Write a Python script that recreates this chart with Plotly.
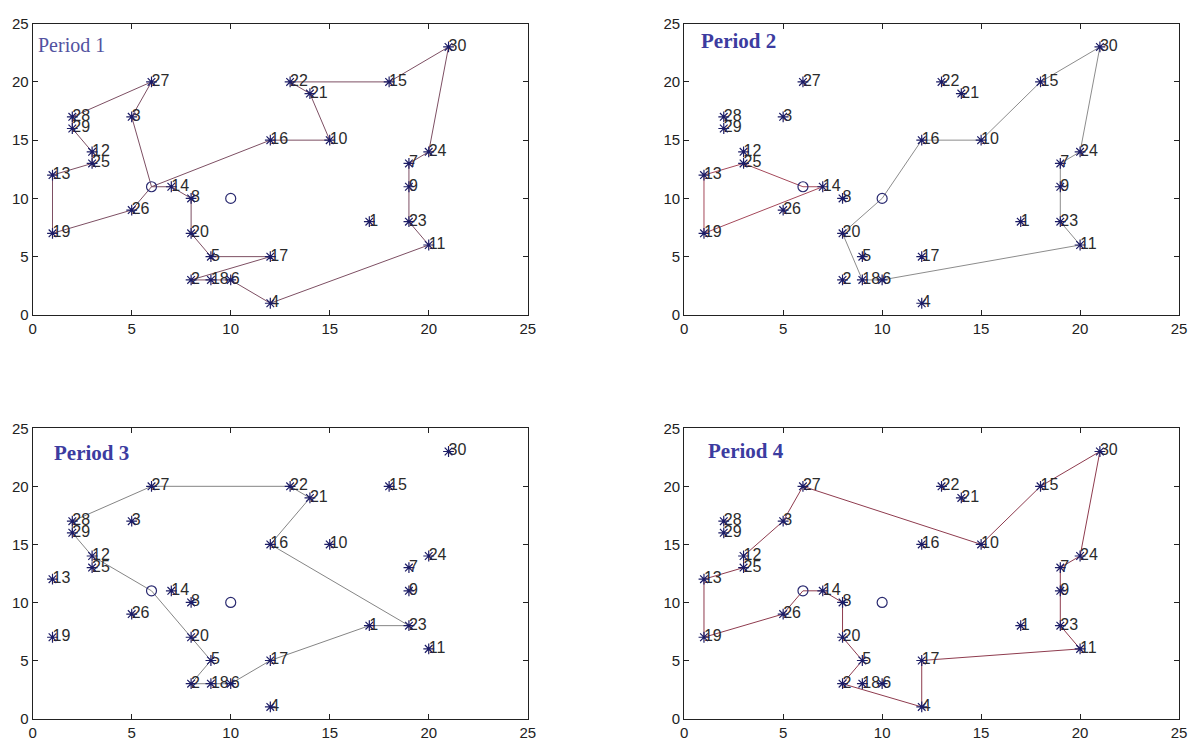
import plotly.graph_objects as go

# Customer coordinates (node 1..30)
node_ids = list(range(1, 31))
node_x = [17, 8, 5, 12, 9, 10, 19, 8, 19, 15, 20, 3, 1, 7, 18,
          12, 12, 9, 1, 8, 14, 13, 19, 20, 3, 5, 6, 2, 2, 21]
node_y = [8, 3, 17, 1, 5, 3, 13, 10, 11, 15, 6, 14, 12, 11, 20,
          15, 5, 3, 7, 7, 19, 20, 8, 14, 13, 9, 20, 17, 16, 23]

# Depots
depot_names = ["A", "B"]
depot_x = [6, 10]
depot_y = [11, 10]

# Vehicle routes per period (node ids, "A"/"B" = depots)
period1_routes = [
    ["A", 3, 27, 28, 29, 12, 25, 13, 19, 26, "A"],
    ["A", 16, 10, 21, 22, 15, 30, 24, 7, 9, 23, 11, 4, 6, 18, 2, 17, 5, 20, 8, 14, "A"],
]
period2_routes = [
    ["A", 25, 13, 19, 14, "A"],
    ["B", 16, 10, 15, 30, 24, 7, 9, 23, 11, 6, 18, 20, "B"],
]
period3_routes = [
    ["A", 20, 5, 2, 18, 6, 17, 1, 23, 16, 21, 22, 27, 28, 29, 12, "A"],
]
period4_routes = [
    ["A", 14, 8, 20, 5, 2, 4, 17, 11, 23, 9, 7, 24, 30, 15, 10, 27, 3, 12, 25, 13, 19, 26, "A"],
]

# (title, routes, route colours, bold title, title position in axis-domain units)
periods = [
    ("Period 1", period1_routes, ["#7d4f63", "#7d4f63"], False, (0.007, 0.926)),
    ("Period 2", period2_routes, ["#a4485a", "#8c8c8c"], True, (0.030, 0.940)),
    ("Period 3", period3_routes, ["#858585"], True, (0.038, 0.916)),
    ("Period 4", period4_routes, ["#8e3b4e"], True, (0.044, 0.920)),
]

x_domains = [[0.0242, 0.4416], [0.5735, 0.9908], [0.0242, 0.4416], [0.5735, 0.9908]]
y_domains = [[0.5827, 0.98], [0.5827, 0.98], [0.032, 0.428], [0.032, 0.428]]

ticks = [0, 5, 10, 15, 20, 25]
tick_text = ["0", "5", "10", "15", "20", "25"]


def coord(p):
    if isinstance(p, str):
        i = depot_names.index(p)
        return depot_x[i], depot_y[i]
    return node_x[p - 1], node_y[p - 1]


fig = go.Figure()
label_font = dict(family="Liberation Sans Narrow, Liberation Sans, Arial", size=16, color="#2b2b2b")
marker_color = "#1c1c66"

for k, (title, routes, colors, bold, tpos) in enumerate(periods):
    suffix = "" if k == 0 else str(k + 1)
    xa, ya = "x" + suffix, "y" + suffix

    for r, route in enumerate(routes):
        pts = [coord(p) for p in route]
        fig.add_trace(go.Scatter(
            x=[p[0] for p in pts], y=[p[1] for p in pts], mode="lines",
            line=dict(color=colors[r], width=1), xaxis=xa, yaxis=ya,
            showlegend=False, hoverinfo="skip"))

    fig.add_trace(go.Scatter(
        x=node_x, y=node_y, mode="text",
        text=[str(i) for i in node_ids], textposition="middle right",
        textfont=label_font, xaxis=xa, yaxis=ya, showlegend=False, hoverinfo="skip"))
    fig.add_trace(go.Scatter(
        x=node_x, y=node_y, mode="markers",
        marker=dict(symbol="asterisk-open", size=9, color=marker_color,
                    line=dict(color=marker_color, width=1.2)),
        xaxis=xa, yaxis=ya, showlegend=False))
    fig.add_trace(go.Scatter(
        x=depot_x, y=depot_y, mode="markers",
        marker=dict(symbol="circle-open", size=10, color="#2a2a70",
                    line=dict(color="#2a2a70", width=1.2)),
        xaxis=xa, yaxis=ya, showlegend=False))

    fig.add_annotation(
        x=tpos[0], y=tpos[1], xref=xa + " domain", yref=ya + " domain",
        text=f"<b>{title}</b>" if bold else title, showarrow=False,
        xanchor="left", yanchor="middle",
        font=dict(family="Liberation Serif, Times New Roman, serif",
                  size=21 if bold else 20, color="#3c3ca0" if bold else "#5252a0"))

    axis_common = dict(range=[0, 25], tickmode="array", tickvals=ticks, ticktext=tick_text,
                       ticks="inside", ticklen=5, tickcolor="#222", showline=True,
                       linecolor="#222", linewidth=1, mirror="ticks", showgrid=False,
                       zeroline=False, tickfont=dict(family="Liberation Sans Narrow, Liberation Sans, Arial",
                                                     size=15, color="#222"))
    fig.layout["xaxis" + suffix] = dict(domain=x_domains[k], anchor=ya, **axis_common)
    fig.layout["yaxis" + suffix] = dict(domain=y_domains[k], anchor=xa, **axis_common)

fig.update_layout(width=1198, height=750, margin=dict(l=0, r=0, t=0, b=0),
                  plot_bgcolor="white", paper_bgcolor="white")
fig.write_html("out.html")
